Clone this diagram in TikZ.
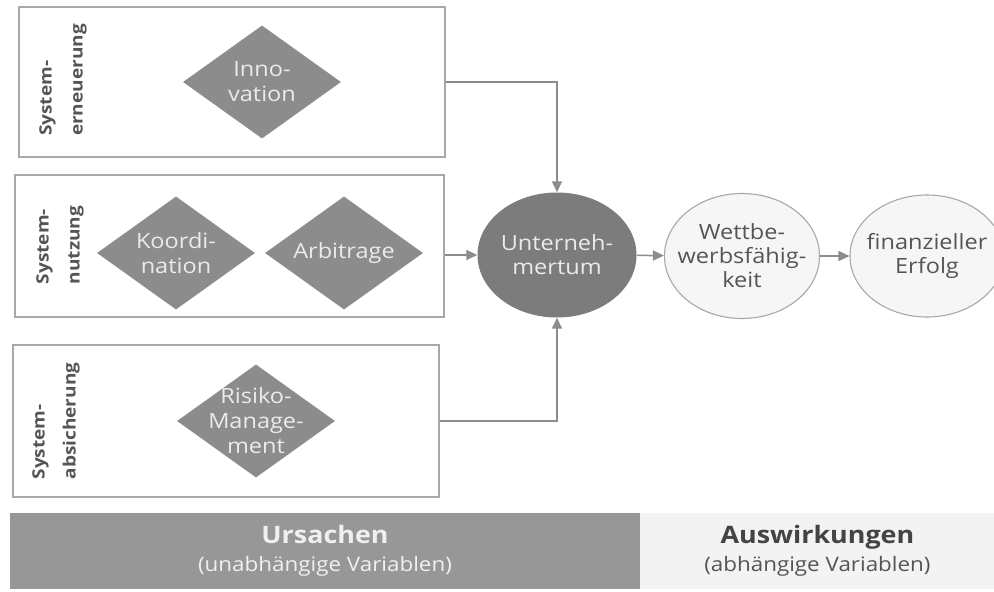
\documentclass[tikz,border=0pt]{standalone}
\usepackage{fontspec}
\setmainfont{Open Sans}[FakeStretch=1.12]
\usetikzlibrary{shapes.geometric,arrows.meta}

\definecolor{boxline}{HTML}{A8A8A8}
\definecolor{diagray}{HTML}{8C8C8C}
\definecolor{darkell}{HTML}{7C7C7C}
\definecolor{bardark}{HTML}{979797}
\definecolor{barlight}{HTML}{F3F3F3}
\definecolor{lightell}{HTML}{F6F6F6}
\definecolor{txtgray}{HTML}{555555}
\definecolor{arrgray}{HTML}{8C8C8C}

\tikzset{
  sysbox/.style={draw=boxline, line width=1.1pt, inner sep=0pt},
  syslabel/.style={rotate=90, align=left, text=txtgray,
    font=\fontsize{17}{31}\selectfont\bfseries},
  dia/.style={diamond, fill=diagray, inner sep=0pt, minimum width=158pt,
    minimum height=113pt},
  diatext/.style={align=center, text=white!92!black,
    font=\fontsize{21}{25}\selectfont},
  darkell/.style={ellipse, fill=darkell, inner sep=0pt},
  lightell/.style={ellipse, draw=boxline, line width=1.1pt, fill=lightell,
    inner sep=0pt},
  elltext/.style={align=center, font=\fontsize{21}{24}\selectfont},
  arr/.style={draw=arrgray, line width=1.5pt,
    -{Triangle[length=11pt,width=10pt]}},
}

\begin{document}
\begin{tikzpicture}[x=1pt,y=-1pt]
\clip (0,0) rectangle (994,592);
\fill[white] (0,0) rectangle (994,592);

% Ursachen-Boxen
\node[sysbox, minimum width=426pt, minimum height=150pt] (sys1) at (232,82) {};
\node[sysbox, minimum width=429pt, minimum height=142pt] (sys2) at (229.5,246) {};
\node[sysbox, minimum width=426pt, minimum height=152pt] (sys3) at (226,421) {};

\node[syslabel] (lab1) at (63,80) {System-\\erneuerung};
\node[syslabel] (lab2) at (60,245) {System-\\nutzung};
\node[syslabel] (lab3) at (56,421) {System-\\absicherung};

\node[dia, label={[diatext]center:Inno-\\vation}] (inno) at (262,82) {};
\node[dia, label={[diatext]center:Koordi-\\nation}] (koord) at (176,253) {};
\node[dia, label={[diatext]center:Arbitrage}] (arbi) at (344,253) {};
\node[dia, label={[diatext]center:Risiko-\\Manage-\\ment}] (risiko) at (256,421) {};

% Wirkungskette
\node[darkell, minimum width=159pt, minimum height=125pt,
  label={[elltext, text=white!92!black]center:Unterneh-\\mertum}] (untern) at (557,255) {};
\node[lightell, minimum width=155pt, minimum height=125pt,
  label={[elltext, text=txtgray]center:Wettbe-\\werbsfähig-\\keit}] (wett) at (742,256) {};
\node[lightell, minimum width=154pt, minimum height=122pt,
  label={[elltext, text=txtgray]center:finanzieller\\Erfolg}] (erfolg) at (927,256) {};

\draw[arr] (sys1.east) -| (untern.north);
\draw[arr] (sys2.east |- untern.west) -- (untern.west);
\draw[arr] (sys3.east) -| (untern.south);
\draw[arr] (untern) -- (wett);
\draw[arr] (wett) -- (erfolg);

% Leiste unten
\node[fill=bardark, minimum width=630pt, minimum height=76pt, inner sep=0pt,
  align=center, text=white!94!black, font=\fontsize{20}{28}\selectfont]
  (ursachen) at (325,551)
  {{\fontsize{24}{28}\selectfont\bfseries Ursachen}\\(unabhängige Variablen)};
\node[fill=barlight, minimum width=354pt, minimum height=76pt, inner sep=0pt,
  align=center, anchor=west, text=txtgray, font=\fontsize{20}{28}\selectfont]
  (auswirk) at (ursachen.east)
  {{\fontsize{24}{28}\selectfont\bfseries\color{txtgray!80!black}Auswirkungen}\\(abhängige Variablen)};
\end{tikzpicture}
\end{document}
